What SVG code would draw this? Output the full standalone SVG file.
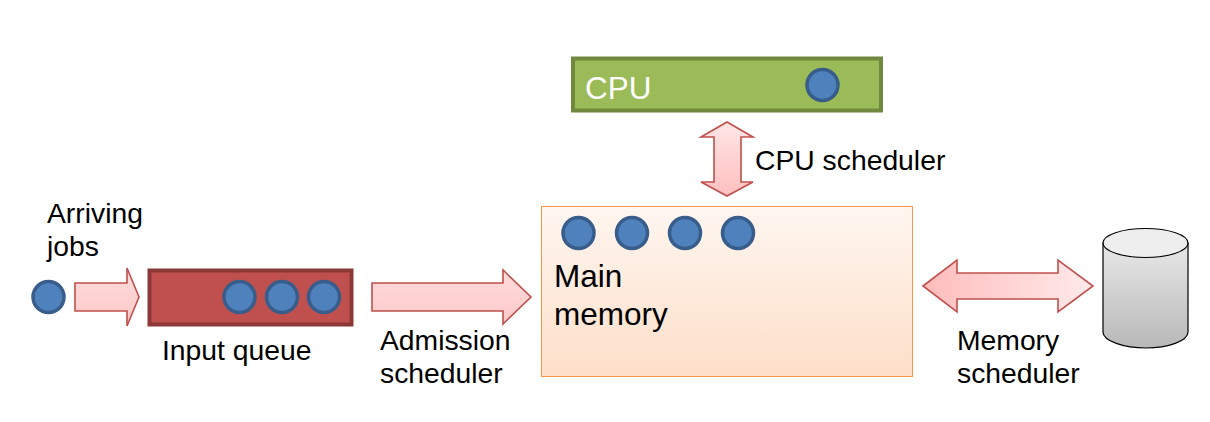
<svg xmlns="http://www.w3.org/2000/svg" width="1210" height="422" viewBox="0 0 1210 422">
<style>
text{font-family:"Liberation Sans",Arial,sans-serif;font-size:28.300px;fill:#000}
.big{font-size:31.500px}
.job{fill:#4f81bd;stroke:#385d8a;stroke-width:3.500px}
.arr{stroke:#c0504d;stroke-width:1.600px;stroke-linejoin:miter}
</style>
<defs>
<linearGradient id="v" x1="0" y1="0" x2="0" y2="1"><stop offset="0" stop-color="#ffdcdc"/><stop offset="1" stop-color="#ffc8c8"/></linearGradient>
<linearGradient id="vs" x1="0" y1="0" x2="0" y2="1"><stop offset="0" stop-color="#ffe6e6"/><stop offset="1" stop-color="#ffbfbf"/></linearGradient>
<linearGradient id="h" x1="0" y1="0" x2="1" y2="0"><stop offset="0" stop-color="#ffbcbc"/><stop offset="1" stop-color="#ffeaea"/></linearGradient>
<linearGradient id="mem" x1="0" y1="0" x2="0" y2="1"><stop offset="0" stop-color="#fff6f0"/><stop offset="1" stop-color="#fddfc9"/></linearGradient>
<linearGradient id="disk" x1="0" y1="0" x2="0" y2="1"><stop offset="0" stop-color="#e8e8e8"/><stop offset="1" stop-color="#b8b8b8"/></linearGradient>
</defs>
<g id="connectors">
<path class="arr" fill="url(#v)" d="M75 283H127V268L139 297L127 326V311H75Z"/>
<path class="arr" fill="url(#v)" d="M372 283H503V270L531 297L503 324V311H372Z"/>
<path class="arr" fill="url(#vs)" d="M727 122L753 137H741V182H753L727 196L701 182H714V137H701Z"/>
<path class="arr" fill="url(#h)" d="M923 286L957 260V273H1058V260L1093 286L1058 312V299H957V312Z"/>
</g>
<g id="arriving-job"><circle class="job" cx="48.500" cy="297" r="15.500"/></g>
<g id="input-queue">
<rect x="149.500" y="270.500" width="202" height="54" fill="#c0504d" stroke="#8c3836" stroke-width="4"/>
<circle class="job" cx="239.500" cy="297" r="15.500"/>
<circle class="job" cx="282" cy="297" r="15.500"/>
<circle class="job" cx="324" cy="297" r="15.500"/>
</g>
<g id="cpu">
<rect x="573" y="58.500" width="308" height="52" fill="#9bbb59" stroke="#71893f" stroke-width="4"/>
<text x="585" y="99" class="big" style="fill:#fff">CPU</text>
<circle class="job" cx="822.500" cy="85" r="15.500"/>
</g>
<g id="main-memory">
<rect x="541.500" y="206.500" width="371" height="170" fill="url(#mem)" stroke="#f79646" stroke-width="1"/>
<circle class="job" cx="578.500" cy="233" r="15.500"/>
<circle class="job" cx="632" cy="233" r="15.500"/>
<circle class="job" cx="685" cy="233" r="15.500"/>
<circle class="job" cx="738" cy="233" r="15.500"/>
<text x="554" y="287" class="big">Main</text>
<text x="554" y="325" class="big">memory</text>
</g>
<g id="disk">
<path d="M1103 243V332C1103 341 1124 348 1146 348S1188 341 1188 332V243Z" fill="url(#disk)" stroke="#000" stroke-width="1.200"/>
<ellipse cx="1145.500" cy="243" rx="42.500" ry="14.500" fill="#eeeeee" stroke="#000" stroke-width="1.200"/>
</g>
<g id="labels">
<text x="47" y="223">Arriving</text>
<text x="47" y="256">jobs</text>
<text x="162" y="360">Input queue</text>
<text x="380" y="350">Admission</text>
<text x="380" y="383">scheduler</text>
<text x="755" y="170">CPU scheduler</text>
<text x="957" y="350">Memory</text>
<text x="957" y="383">scheduler</text>
</g>
</svg>
